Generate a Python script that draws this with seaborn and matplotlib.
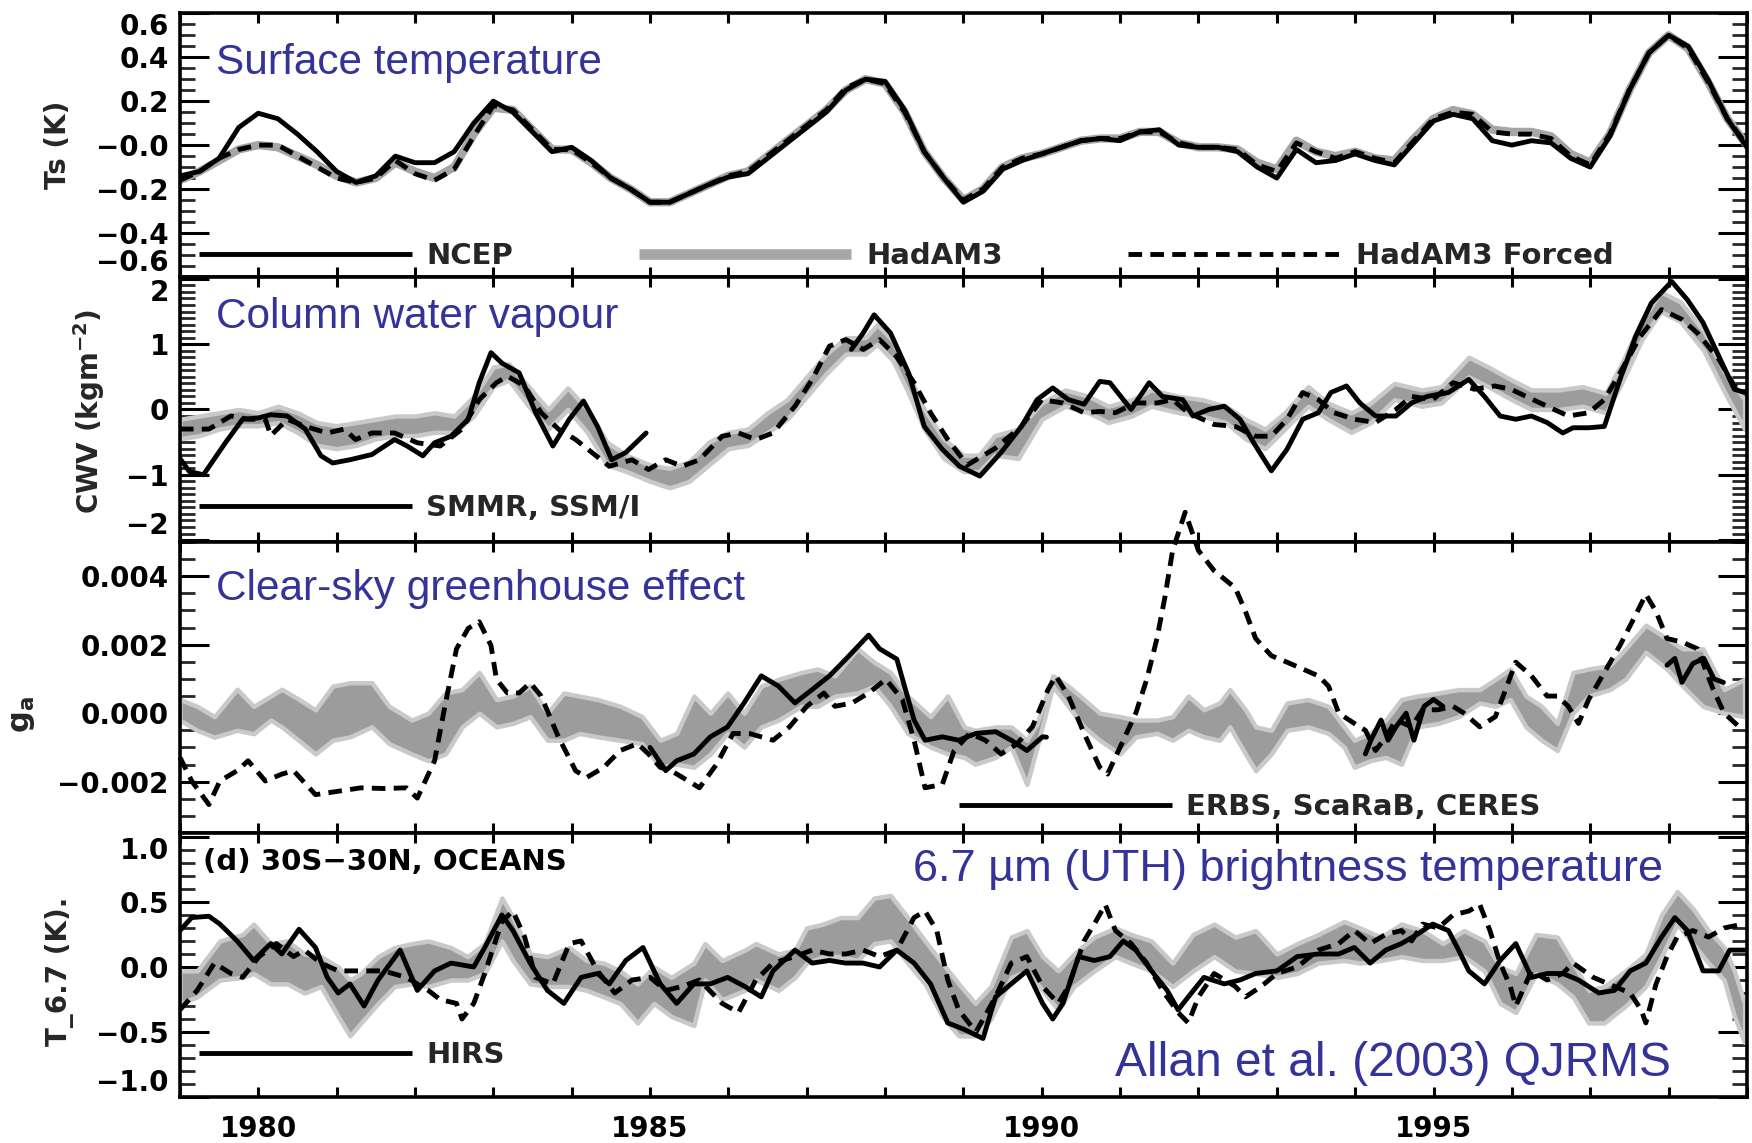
import numpy as np
import pandas as pd
import matplotlib
matplotlib.use("Agg")
import matplotlib.pyplot as plt
from matplotlib.lines import Line2D
from matplotlib.ticker import FixedLocator, FixedFormatter, MultipleLocator
import seaborn as sns

# ------------------------------------------------------------------ data
# (a) Surface temperature anomaly (K), quarterly 1979.0 - 1999.0
ts_years = np.arange(1979.0, 1999.01, 0.25)
ts_ncep = [-0.14, -0.12, -0.06, 0.08, 0.145, 0.12, 0.05, -0.03, -0.12, -0.17, -0.14, -0.05,
           -0.08, -0.08, -0.03, 0.10, 0.20, 0.15, 0.06, -0.03, -0.01, -0.07, -0.15, -0.20,
           -0.26, -0.26, -0.22, -0.18, -0.145, -0.13, -0.06, 0.01, 0.08, 0.15, 0.25, 0.30,
           0.29, 0.16, -0.03, -0.15, -0.26, -0.21, -0.11, -0.07, -0.04, -0.01, 0.02, 0.03,
           0.02, 0.06, 0.07, 0.00, -0.01, -0.01, -0.03, -0.10, -0.15, -0.02, -0.08, -0.07,
           -0.04, -0.07, -0.09, 0.01, 0.11, 0.14, 0.12, 0.02, 0.00, 0.02, 0.01, -0.06,
           -0.10, 0.04, 0.25, 0.42, 0.50, 0.45, 0.30, 0.12, -0.01]
ts_hadam3 = [-0.16, -0.12, -0.07, -0.02, 0.0, -0.01, -0.05, -0.09, -0.14, -0.17, -0.15, -0.08,
             -0.12, -0.15, -0.10, 0.05, 0.17, 0.16, 0.07, -0.02, -0.02, -0.08, -0.15, -0.20,
             -0.26, -0.26, -0.22, -0.18, -0.14, -0.12, -0.05, 0.02, 0.09, 0.16, 0.25, 0.30,
             0.28, 0.15, -0.03, -0.15, -0.25, -0.20, -0.10, -0.06, -0.04, -0.01, 0.02, 0.03,
             0.03, 0.06, 0.06, 0.01, -0.01, -0.01, -0.02, -0.08, -0.11, 0.02, -0.03, -0.05,
             -0.03, -0.06, -0.07, 0.03, 0.12, 0.16, 0.14, 0.07, 0.06, 0.06, 0.04, -0.04,
             -0.08, 0.05, 0.25, 0.42, 0.50, 0.44, 0.29, 0.12, 0.0]
ts_forced = [-0.16, -0.12, -0.06, -0.02, 0.0, 0.0, -0.05, -0.10, -0.15, -0.17, -0.15, -0.07,
             -0.13, -0.16, -0.11, 0.04, 0.18, 0.16, 0.07, -0.02, -0.02, -0.08, -0.15, -0.20,
             -0.26, -0.26, -0.22, -0.18, -0.14, -0.12, -0.05, 0.02, 0.09, 0.16, 0.26, 0.30,
             0.28, 0.15, -0.03, -0.15, -0.25, -0.20, -0.10, -0.06, -0.04, -0.01, 0.02, 0.03,
             0.03, 0.06, 0.06, 0.01, -0.01, -0.01, -0.02, -0.09, -0.12, 0.01, -0.03, -0.06,
             -0.03, -0.06, -0.08, 0.02, 0.12, 0.15, 0.14, 0.06, 0.05, 0.05, 0.03, -0.05,
             -0.09, 0.05, 0.25, 0.42, 0.50, 0.44, 0.29, 0.12, 0.0]

# (b) Column water vapour (kg m-2): (year, value); NaN = data gap
cwv_obs = [(1979.0, -0.75), (1979.12, -0.95), (1979.3, -1.0), (1979.58, -0.51), (1979.8, -0.15),
           (1980.0, -0.13), (1980.16, -0.08), (1980.37, -0.1), (1980.6, -0.3), (1980.8, -0.71),
           (1980.95, -0.82), (1981.17, -0.77), (1981.45, -0.69), (1981.74, -0.46), (1981.9, -0.56),
           (1982.1, -0.71), (1982.25, -0.51), (1982.46, -0.41), (1982.68, -0.15), (1982.82, 0.41),
           (1982.97, 0.87), (1983.11, 0.71), (1983.33, 0.56), (1983.54, -0.05), (1983.76, -0.56),
           (1983.97, -0.15), (1984.15, 0.13), (1984.33, -0.26), (1984.51, -0.77), (1984.69, -0.66),
           (1984.95, -0.36), (1986.0, np.nan),
           (1987.57, 0.92), (1987.72, 1.17), (1987.86, 1.45), (1988.07, 1.17), (1988.3, 0.56),
           (1988.5, -0.26), (1988.73, -0.61), (1988.95, -0.87), (1989.21, -1.02), (1989.48, -0.66),
           (1989.74, -0.26), (1989.94, 0.15), (1990.14, 0.33), (1990.34, 0.15), (1990.54, 0.08),
           (1990.74, 0.43), (1990.87, 0.41), (1991.14, 0.0), (1991.37, 0.41), (1991.54, 0.2),
           (1991.8, 0.15), (1991.93, -0.1), (1992.13, 0.0), (1992.33, 0.05), (1992.53, -0.15),
           (1992.73, -0.56), (1992.93, -0.94), (1993.13, -0.61), (1993.33, -0.15), (1993.53, -0.05),
           (1993.69, 0.26), (1993.89, 0.36), (1994.06, 0.1), (1994.26, -0.1), (1994.52, -0.1),
           (1994.72, 0.1), (1994.92, 0.2), (1995.19, 0.26), (1995.45, 0.46), (1995.65, 0.2),
           (1995.85, -0.1), (1996.05, -0.15), (1996.25, -0.1), (1996.45, -0.2), (1996.65, -0.36),
           (1996.78, -0.28), (1996.98, -0.28), (1997.18, -0.26), (1997.38, 0.46), (1997.58, 1.12),
           (1997.78, 1.63), (1998.04, 1.96), (1998.24, 1.68), (1998.44, 1.33), (1998.64, 0.82),
           (1998.84, 0.31), (1998.97, 0.26)]
cwv_forced = [(1979.0, -0.3), (1979.37, -0.3), (1979.65, -0.1), (1979.87, -0.15), (1980.09, -0.15),
              (1980.16, -0.4), (1980.37, -0.15), (1980.6, -0.26), (1980.88, -0.36), (1981.1, -0.3),
              (1981.24, -0.46), (1981.45, -0.36), (1981.74, -0.36), (1982.03, -0.51), (1982.32, -0.56),
              (1982.6, -0.3), (1982.82, 0.15), (1983.04, 0.41), (1983.18, 0.51), (1983.4, 0.36),
              (1983.61, -0.05), (1983.83, -0.3), (1984.05, -0.46), (1984.26, -0.66), (1984.48, -0.87),
              (1984.77, -0.77), (1984.98, -0.92), (1985.2, -0.77), (1985.41, -0.87), (1985.63, -0.77),
              (1985.92, -0.41), (1986.13, -0.36), (1986.35, -0.46), (1986.57, -0.36), (1986.85, 0.05),
              (1987.07, 0.46), (1987.29, 0.97), (1987.5, 1.07), (1987.72, 0.92), (1987.93, 1.07),
              (1988.14, 0.82), (1988.37, 0.41), (1988.58, -0.05), (1988.8, -0.46), (1989.05, -0.85),
              (1989.4, -0.6), (1989.74, -0.26), (1990.0, 0.15), (1990.27, 0.1), (1990.54, -0.05),
              (1990.74, -0.03), (1990.94, -0.05), (1991.2, 0.1), (1991.47, 0.1), (1991.67, 0.15),
              (1991.87, -0.05), (1992.2, -0.23), (1992.47, -0.26), (1992.73, -0.41), (1992.93, -0.41),
              (1993.13, -0.15), (1993.33, 0.26), (1993.53, 0.15), (1993.73, -0.05), (1993.99, -0.15),
              (1994.26, -0.2), (1994.52, 0.0), (1994.72, 0.2), (1994.99, 0.15), (1995.25, 0.41),
              (1995.52, 0.31), (1995.78, 0.36), (1995.99, 0.31), (1996.18, 0.2), (1996.45, 0.05),
              (1996.72, -0.1), (1996.98, -0.05), (1997.18, 0.15), (1997.38, 0.56), (1997.64, 1.12),
              (1997.91, 1.53), (1998.17, 1.38), (1998.37, 1.17), (1998.64, 0.77), (1998.84, 0.36),
              (1998.97, 0.31)]
# HadAM3 ensemble range: (year, upper, lower)
cwv_band = [(1979.0, -0.15, -0.45), (1979.25, -0.1, -0.4), (1979.5, -0.05, -0.3), (1979.75, 0.0, -0.25),
            (1980.0, -0.05, -0.25), (1980.25, 0.05, -0.2), (1980.5, -0.05, -0.35), (1980.75, -0.2, -0.55),
            (1981.0, -0.25, -0.6), (1981.25, -0.2, -0.55), (1981.5, -0.15, -0.45), (1981.75, -0.1, -0.4),
            (1982.0, -0.1, -0.4), (1982.25, -0.05, -0.35), (1982.5, -0.1, -0.35), (1982.75, 0.2, -0.1),
            (1983.0, 0.65, 0.35), (1983.2, 0.7, 0.45), (1983.45, 0.35, 0.05), (1983.7, 0.0, -0.3),
            (1983.95, 0.33, 0.0), (1984.2, 0.0, -0.35), (1984.45, -0.5, -0.85), (1984.7, -0.7, -0.95),
            (1985.0, -0.85, -1.1), (1985.25, -0.9, -1.2), (1985.5, -0.8, -1.1), (1985.75, -0.5, -0.85),
            (1986.0, -0.35, -0.6), (1986.25, -0.3, -0.55), (1986.5, -0.05, -0.35), (1986.75, 0.15, -0.15),
            (1987.0, 0.5, 0.2), (1987.25, 0.85, 0.55), (1987.5, 1.1, 0.85), (1987.75, 1.1, 0.85),
            (1987.9, 1.3, 1.0), (1988.1, 1.05, 0.75), (1988.3, 0.55, 0.25), (1988.5, 0.0, -0.3),
            (1988.75, -0.45, -0.75), (1989.0, -0.7, -0.95), (1989.2, -0.7, -0.95), (1989.4, -0.4, -0.7),
            (1989.7, -0.3, -0.75), (1990.0, 0.1, -0.15), (1990.3, 0.3, 0.05), (1990.6, 0.2, -0.05),
            (1990.85, 0.05, -0.2), (1991.15, 0.15, -0.1), (1991.4, 0.3, 0.05), (1991.75, 0.2, -0.05),
            (1992.05, 0.15, -0.1), (1992.35, 0.05, -0.2), (1992.6, -0.15, -0.45), (1992.85, -0.3, -0.6),
            (1993.1, -0.05, -0.3), (1993.4, 0.35, 0.05), (1993.65, 0.1, -0.15), (1993.95, -0.05, -0.35),
            (1994.2, 0.1, -0.2), (1994.5, 0.4, 0.15), (1994.85, 0.3, 0.05), (1995.1, 0.35, 0.1),
            (1995.45, 0.8, 0.5), (1995.7, 0.65, 0.35), (1996.0, 0.45, 0.15), (1996.25, 0.3, 0.0),
            (1996.6, 0.3, 0.0), (1996.9, 0.35, 0.05), (1997.2, 0.25, -0.05), (1997.4, 0.7, 0.4),
            (1997.65, 1.35, 1.05), (1997.9, 1.8, 1.5), (1998.15, 1.65, 1.35), (1998.45, 1.2, 0.9),
            (1998.7, 0.6, 0.3), (1998.97, 0.15, -0.3)]

# (c) Clear-sky greenhouse parameter g_a, in units of 0.001
ga_obs = [(1985.0, -1.0), (1985.2, -1.68), (1985.34, -1.39), (1985.56, -1.19), (1985.77, -0.69),
          (1985.99, -0.4), (1986.2, 0.3), (1986.42, 1.09), (1986.64, 0.79), (1986.85, 0.3),
          (1987.07, 0.69), (1987.29, 1.09), (1987.5, 1.58), (1987.79, 2.28), (1987.93, 1.88),
          (1988.15, 1.58), (1988.37, -0.2), (1988.51, -0.79), (1988.73, -0.69), (1988.94, -0.79),
          (1989.16, -0.59), (1989.41, -0.54), (1989.61, -0.79), (1989.81, -1.09), (1990.01, -0.69),
          (1990.06, -0.7), (1992.0, np.nan),
          (1994.13, -1.19), (1994.2, -0.79), (1994.33, -0.2), (1994.42, -0.79), (1994.52, -0.4),
          (1994.65, 0.0), (1994.75, -0.79), (1994.88, 0.2), (1995.0, 0.4), (1995.12, 0.2),
          (1996.5, np.nan),
          (1997.98, 1.4), (1998.08, 1.6), (1998.17, 0.9), (1998.31, 1.45), (1998.45, 1.6),
          (1998.58, 1.0), (1998.7, 0.9)]
ga_forced = [(1979.0, -1.29), (1979.15, -1.98), (1979.37, -2.67), (1979.51, -1.98), (1979.73, -1.68),
             (1979.87, -1.39), (1980.09, -1.98), (1980.3, -1.78), (1980.45, -1.68), (1980.73, -2.38),
             (1981.02, -2.28), (1981.31, -2.18), (1981.6, -2.2), (1981.89, -2.18), (1982.03, -2.48),
             (1982.25, -1.39), (1982.39, 0.3), (1982.53, 1.88), (1982.68, 2.48), (1982.82, 2.67),
             (1982.97, 1.98), (1983.04, 0.99), (1983.18, 0.59), (1983.33, 0.59), (1983.47, 0.89),
             (1983.61, 0.5), (1983.83, -0.69), (1984.05, -1.68), (1984.19, -1.88), (1984.41, -1.58),
             (1984.62, -1.09), (1984.84, -0.89), (1984.98, -1.19), (1985.13, -1.58), (1985.27, -1.68),
             (1985.49, -1.98), (1985.63, -2.18), (1985.85, -1.49), (1986.06, -0.59), (1986.28, -0.6),
             (1986.57, -0.79), (1986.78, -0.4), (1987.0, 0.2), (1987.22, 0.59), (1987.36, 0.2),
             (1987.58, 0.3), (1987.79, 0.59), (1988.01, 0.99), (1988.22, 0.4), (1988.37, -0.79),
             (1988.51, -2.18), (1988.73, -2.08), (1988.88, -1.1), (1989.08, -0.59), (1989.28, -0.79),
             (1989.48, -1.19), (1989.68, -0.9), (1989.88, -0.4), (1990.08, 0.69), (1990.18, 1.09),
             (1990.34, 0.5), (1990.54, -0.59), (1990.74, -1.58), (1990.84, -1.78), (1991.0, -0.99),
             (1991.2, 0.0), (1991.34, 0.99), (1991.47, 2.18), (1991.57, 3.37), (1991.67, 4.75),
             (1991.83, 5.87), (1992.0, 4.75), (1992.2, 4.16), (1992.47, 3.66), (1992.6, 2.97),
             (1992.73, 2.18), (1992.93, 1.68), (1993.13, 1.49), (1993.33, 1.29), (1993.53, 1.09),
             (1993.66, 0.79), (1993.79, 0.0), (1993.99, -0.3), (1994.13, -0.5), (1994.26, -1.09),
             (1994.39, -0.7), (1994.52, -0.2), (1994.72, -0.4), (1994.86, 0.1), (1995.06, 0.1),
             (1995.25, 0.2), (1995.39, 0.0), (1995.59, -0.4), (1995.79, -0.1), (1995.92, 0.69),
             (1996.05, 1.49), (1996.25, 1.09), (1996.45, 0.5), (1996.58, 0.5), (1996.72, 0.2),
             (1996.85, -0.3), (1996.98, 0.4), (1997.18, 1.19), (1997.38, 1.98), (1997.58, 2.87),
             (1997.71, 3.47), (1997.84, 2.97), (1997.98, 2.18), (1998.17, 2.08), (1998.37, 1.88),
             (1998.57, 0.69), (1998.71, 0.0), (1998.95, -0.5)]
ga_band = [(1979.0, 0.4, -0.2), (1979.22, 0.2, -0.5), (1979.44, -0.1, -0.7), (1979.73, 0.7, -0.5),
           (1979.94, 0.2, -0.6), (1980.16, 0.5, -0.2), (1980.3, 0.7, -0.4), (1980.52, 0.4, -0.8),
           (1980.73, 0.1, -1.19), (1980.95, 0.79, -0.79), (1981.17, 0.89, -0.69), (1981.45, 0.89, -0.4),
           (1981.67, 0.2, -0.89), (1981.96, -0.2, -1.19), (1982.17, 0.0, -1.39), (1982.39, 0.59, -1.19),
           (1982.6, 0.69, -0.4), (1982.82, 1.19, 0.0), (1983.04, 0.4, -0.4), (1983.25, 0.5, -0.3),
           (1983.47, 0.79, -0.1), (1983.69, 0.0, -0.79), (1983.9, 0.59, -0.79), (1984.1, 0.5, -0.59),
           (1984.33, 0.4, -0.69), (1984.62, 0.2, -0.79), (1984.9, -0.1, -0.89), (1985.13, -0.79, -1.58),
           (1985.34, -0.59, -1.49), (1985.56, 0.5, -1.58), (1985.77, 0.0, -1.19), (1985.99, 0.59, -0.59),
           (1986.2, 0.0, -0.99), (1986.42, 0.79, -0.4), (1986.64, 0.99, -0.2), (1986.93, 1.19, 0.2),
           (1987.14, 1.29, 0.2), (1987.36, 1.09, 0.5), (1987.65, 1.88, 0.59), (1987.86, 1.49, 0.79),
           (1988.07, 1.19, 0.2), (1988.29, 0.5, -0.59), (1988.58, -0.1, -0.99), (1988.8, 0.5, -1.19),
           (1989.01, -0.4, -1.29), (1989.15, -0.5, -1.49), (1989.41, -0.4, -1.29), (1989.61, -0.4, -0.99),
           (1989.81, -0.79, -2.08), (1989.94, -0.3, -0.99), (1990.14, 1.09, 0.79), (1990.34, 0.79, 0.2),
           (1990.54, 0.4, -0.4), (1990.74, 0.0, -0.79), (1991.0, -0.1, -1.19), (1991.2, -0.2, -0.69),
           (1991.47, -0.2, -0.59), (1991.67, -0.1, -0.79), (1991.87, 0.5, -0.5), (1992.07, 0.1, -0.69),
           (1992.27, 0.3, -0.79), (1992.4, 0.69, -0.4), (1992.6, 0.1, -1.19), (1992.73, -0.4, -1.68),
           (1992.93, -0.5, -1.19), (1993.13, 0.3, -0.5), (1993.4, 0.4, -0.4), (1993.66, 0.2, -0.59),
           (1993.86, -0.4, -0.99), (1993.99, -0.79, -1.58), (1994.19, -0.59, -1.39), (1994.39, -0.2, -1.29),
           (1994.59, 0.4, -1.49), (1994.79, 0.5, -0.4), (1995.06, 0.59, -0.3), (1995.32, 0.69, -0.1),
           (1995.59, 0.69, 0.3), (1995.79, 0.99, 0.2), (1995.98, 1.29, 0.4), (1996.18, 0.5, -0.4),
           (1996.38, 0.2, -0.79), (1996.58, -0.3, -1.09), (1996.78, 1.19, 0.0), (1996.98, 1.29, 0.5),
           (1997.25, 1.39, 0.69), (1997.45, 1.88, 0.99), (1997.71, 2.57, 1.78), (1997.98, 2.18, 1.29),
           (1998.18, 1.88, 0.79), (1998.44, 1.88, 0.2), (1998.71, 0.69, 0.0), (1998.97, 0.99, -0.1)]

# (d) 6.7 micron brightness temperature (K)
t67_obs = [(1979.0, 0.28), (1979.15, 0.38), (1979.37, 0.39), (1979.51, 0.33), (1979.73, 0.2),
           (1979.94, 0.05), (1980.16, 0.18), (1980.3, 0.1), (1980.52, 0.29), (1980.73, 0.15),
           (1980.88, -0.08), (1981.02, -0.2), (1981.17, -0.13), (1981.35, -0.3), (1981.53, -0.1),
           (1981.81, 0.13), (1982.03, -0.18), (1982.25, -0.03), (1982.46, 0.03), (1982.75, 0.0),
           (1982.89, 0.15), (1983.11, 0.4), (1983.25, 0.28), (1983.47, 0.03), (1983.69, -0.18),
           (1983.9, -0.28), (1984.12, -0.08), (1984.33, -0.05), (1984.48, -0.13), (1984.69, 0.05),
           (1984.91, 0.15), (1985.13, -0.13), (1985.34, -0.28), (1985.56, -0.13), (1985.77, -0.13),
           (1985.99, -0.08), (1986.21, -0.15), (1986.42, -0.23), (1986.57, -0.03), (1986.85, 0.13),
           (1987.07, 0.03), (1987.29, 0.05), (1987.5, 0.03), (1987.72, 0.03), (1987.93, 0.0),
           (1988.15, 0.13), (1988.37, 0.03), (1988.58, -0.13), (1988.8, -0.43), (1989.01, -0.48),
           (1989.25, -0.55), (1989.41, -0.23), (1989.61, -0.13), (1989.81, -0.03), (1990.01, -0.28),
           (1990.14, -0.4), (1990.27, -0.28), (1990.47, 0.08), (1990.67, 0.05), (1990.87, 0.08),
           (1991.04, 0.2), (1991.2, 0.13), (1991.4, -0.03), (1991.6, -0.18), (1991.74, -0.33),
           (1991.87, -0.23), (1992.07, -0.08), (1992.33, -0.13), (1992.53, -0.1), (1992.73, -0.05),
           (1993.0, -0.03), (1993.26, 0.08), (1993.53, 0.1), (1993.79, 0.1), (1993.99, 0.15),
           (1994.19, 0.03), (1994.39, 0.13), (1994.59, 0.18), (1994.79, 0.25), (1994.99, 0.33),
           (1995.19, 0.28), (1995.32, 0.13), (1995.45, -0.03), (1995.65, -0.13), (1995.85, 0.05),
           (1996.05, 0.18), (1996.25, -0.08), (1996.45, -0.05), (1996.65, -0.05), (1996.85, -0.1),
           (1997.11, -0.2), (1997.31, -0.18), (1997.51, -0.03), (1997.71, 0.03), (1997.91, 0.23),
           (1998.08, 0.38), (1998.24, 0.28), (1998.44, -0.03), (1998.64, -0.03), (1998.78, 0.13),
           (1998.97, 0.13)]
t67_forced = [(1979.0, -0.33), (1979.22, -0.18), (1979.44, 0.03), (1979.65, -0.05), (1979.8, -0.08),
              (1980.01, 0.08), (1980.23, 0.18), (1980.45, 0.08), (1980.59, 0.13), (1980.8, 0.03),
              (1981.02, -0.03), (1981.31, -0.03), (1981.6, -0.03), (1981.89, -0.08), (1982.17, -0.18),
              (1982.32, -0.25), (1982.53, -0.28), (1982.6, -0.4), (1982.75, -0.28), (1982.89, -0.05),
              (1983.11, 0.35), (1983.25, 0.43), (1983.4, 0.23), (1983.54, -0.08), (1983.76, -0.13),
              (1983.97, 0.18), (1984.12, 0.2), (1984.33, -0.03), (1984.55, -0.2), (1984.77, -0.1),
              (1985.0, -0.08), (1985.2, -0.18), (1985.41, -0.15), (1985.63, -0.1), (1985.92, -0.28),
              (1986.13, -0.35), (1986.35, -0.1), (1986.57, 0.03), (1986.85, 0.08), (1987.07, 0.13),
              (1987.29, 0.1), (1987.5, 0.1), (1987.72, 0.13), (1987.93, 0.08), (1988.15, 0.13),
              (1988.37, 0.38), (1988.51, 0.43), (1988.66, 0.28), (1988.8, -0.1), (1988.94, -0.33),
              (1989.16, -0.5), (1989.41, -0.23), (1989.61, 0.03), (1989.81, 0.08), (1990.01, -0.15),
              (1990.21, -0.28), (1990.34, -0.15), (1990.54, 0.2), (1990.67, 0.33), (1990.81, 0.48),
              (1990.94, 0.28), (1991.14, 0.18), (1991.34, 0.03), (1991.54, -0.18), (1991.74, -0.35),
              (1991.87, -0.43), (1992.0, -0.23), (1992.2, -0.05), (1992.47, -0.15), (1992.6, -0.23),
              (1992.8, -0.15), (1993.0, -0.05), (1993.26, 0.0), (1993.53, 0.13), (1993.79, 0.18),
              (1993.99, 0.28), (1994.19, 0.18), (1994.39, 0.25), (1994.59, 0.28), (1994.72, 0.2),
              (1994.86, 0.33), (1995.06, 0.3), (1995.25, 0.4), (1995.45, 0.43), (1995.59, 0.48),
              (1995.72, 0.28), (1995.85, 0.03), (1995.98, -0.15), (1996.05, -0.3), (1996.25, -0.03),
              (1996.45, -0.1), (1996.65, -0.05), (1996.78, 0.03), (1997.04, -0.08), (1997.31, -0.15),
              (1997.51, -0.2), (1997.65, -0.33), (1997.71, -0.43), (1997.84, -0.13), (1997.98, 0.08),
              (1998.11, 0.23), (1998.31, 0.28), (1998.51, 0.23), (1998.71, 0.3), (1998.95, 0.33)]
t67_band = [(1979.0, -0.03, -0.28), (1979.22, -0.03, -0.23), (1979.51, 0.2, -0.1), (1979.8, 0.25, -0.08),
            (1979.94, 0.33, -0.05), (1980.16, 0.18, -0.13), (1980.37, 0.2, -0.13), (1980.59, 0.1, -0.2),
            (1980.8, 0.08, -0.15), (1981.02, 0.0, -0.38), (1981.17, -0.1, -0.53), (1981.31, -0.05, -0.43),
            (1981.53, 0.08, -0.28), (1981.74, 0.15, -0.15), (1981.96, 0.18, -0.13), (1982.17, 0.2, -0.15),
            (1982.46, 0.15, -0.1), (1982.67, 0.08, -0.1), (1982.89, 0.18, -0.05), (1983.11, 0.53, 0.2),
            (1983.25, 0.38, 0.05), (1983.47, 0.1, -0.13), (1983.69, 0.08, -0.15), (1983.97, 0.15, -0.15),
            (1984.19, 0.05, -0.18), (1984.41, 0.03, -0.23), (1984.62, -0.03, -0.28), (1984.84, -0.13, -0.43),
            (1985.05, 0.0, -0.28), (1985.27, -0.08, -0.38), (1985.56, 0.03, -0.45), (1985.7, 0.18, -0.1),
            (1985.92, 0.05, -0.25), (1986.21, 0.13, -0.18), (1986.35, 0.18, -0.1), (1986.64, 0.1, -0.18),
            (1986.85, 0.13, -0.08), (1987.0, 0.3, 0.03), (1987.21, 0.33, 0.08), (1987.43, 0.38, 0.08),
            (1987.65, 0.38, 0.05), (1987.86, 0.53, 0.18), (1988.07, 0.55, 0.2), (1988.29, 0.38, 0.03),
            (1988.51, 0.2, -0.13), (1988.73, 0.03, -0.38), (1988.94, -0.13, -0.53), (1989.15, -0.28, -0.53),
            (1989.35, -0.15, -0.4), (1989.61, 0.23, -0.08), (1989.81, 0.28, -0.03), (1990.01, 0.08, -0.18),
            (1990.21, -0.03, -0.33), (1990.41, 0.1, -0.15), (1990.67, 0.23, -0.03), (1990.94, 0.3, 0.08),
            (1991.14, 0.25, 0.03), (1991.4, 0.2, -0.03), (1991.67, 0.03, -0.15), (1991.93, 0.25, -0.03),
            (1992.2, 0.33, 0.08), (1992.47, 0.23, -0.03), (1992.73, 0.28, -0.05), (1993.0, 0.1, -0.08),
            (1993.26, 0.18, -0.05), (1993.53, 0.25, 0.03), (1993.86, 0.35, 0.05), (1994.06, 0.3, 0.03),
            (1994.33, 0.23, 0.05), (1994.59, 0.33, 0.08), (1994.86, 0.28, 0.05), (1995.12, 0.18, 0.05),
            (1995.39, 0.28, 0.08), (1995.65, 0.2, -0.03), (1995.85, 0.0, -0.28), (1996.05, -0.05, -0.35),
            (1996.31, 0.25, -0.05), (1996.58, 0.23, -0.13), (1996.78, 0.03, -0.23), (1996.98, -0.18, -0.43),
            (1997.18, -0.15, -0.43), (1997.45, -0.03, -0.3), (1997.71, 0.1, -0.15), (1997.91, 0.4, 0.08),
            (1998.11, 0.58, 0.33), (1998.31, 0.45, 0.18), (1998.51, 0.28, 0.03), (1998.71, 0.15, -0.1),
            (1998.84, -0.03, -0.38), (1998.97, -0.28, -0.58)]

# axis ticks / labels
year_ticks = list(range(1979, 2000))
year_labels = ["1980", "1985", "1990", "1995"]
ts_yticks = [0.6, 0.4, 0.2, 0.0, -0.2, -0.4, -0.6]
ts_ylabels = ["0.6", "0.4", "0.2", "\u22120.0", "\u22120.2", "\u22120.4", "\u22120.6"]
cwv_yticks = [2, 1, 0, -1, -2]
cwv_ylabels = ["2", "1", "0", "\u22121", "\u22122"]
ga_yticks = [4, 2, 0, -2]                     # units of 0.001
ga_ylabels = ["0.004", "0.002", "0.000", "\u22120.002"]
t67_yticks = [1.0, 0.5, 0.0, -0.5, -1.0]
t67_ylabels = ["1.0", "0.5", "0.0", "\u22120.5", "\u22121.0"]

# ------------------------------------------------------------------ style
sns.set_theme(style="white")
plt.rcParams["font.family"] = ["DejaVu Sans"]
plt.rcParams["font.weight"] = "bold"
plt.rcParams["mathtext.default"] = "bf"
plt.rcParams["axes.linewidth"] = 2.6

BLACK = "#000000"
DARK = "#9c9c9c"
LIGHT = "#c9c9c9"
HAD_LINE = "#a6a6a6"
BLUE = "#333399"
LW = 3.5
DASH = [2.8, 1.7]
TICKFS = 20
TXTFS = 21

fig = plt.figure(figsize=(17.52, 11.43), dpi=100)
L, W = 0.1027, 0.8944
rects = [(L, 0.7577, W, 0.2307), (L, 0.5258, W, 0.2319), (L, 0.2712, W, 0.2546), (L, 0.0402, W, 0.2310)]
axes = [fig.add_axes(r) for r in rects]


def draw(ax, t, v, color=BLACK, lw=LW, dashes=None, clip=True, z=3):
    df = pd.DataFrame({"t": t, "v": v})
    grp = df["v"].isna().cumsum()
    ok = df["v"].notna()
    for _, part in df[ok].groupby(grp[ok]):
        sns.lineplot(data=part, x="t", y="v", ax=ax, color=color, linewidth=lw,
                     estimator=None, sort=False, zorder=z)
        ln = ax.lines[-1]
        if dashes is not None:
            ln.set_dashes(dashes)
        ln.set_clip_on(clip)
        ln.set_solid_joinstyle("round")
        ln.set_dash_joinstyle("round")


def band(ax, rows):
    arr = np.array(rows, dtype=float)
    ax.fill_between(arr[:, 0], arr[:, 2], arr[:, 1], facecolor=DARK, edgecolor=LIGHT,
                    linewidth=3.2, zorder=1)


def unzip(rows):
    arr = np.array(rows, dtype=float)
    return arr[:, 0], arr[:, 1]


def style_axis(ax, yticks, ylabels, ylim, minor, bottom_labels=False):
    ax.set_xlim(1979.0, 1999.0)
    ax.set_ylim(*ylim)
    ax.set_facecolor("white")
    for s in ax.spines.values():
        s.set_visible(True)
        s.set_color(BLACK)
        s.set_linewidth(2.6)
    ax.yaxis.set_major_locator(FixedLocator(yticks))
    ax.yaxis.set_major_formatter(FixedFormatter(ylabels))
    ax.yaxis.set_minor_locator(MultipleLocator(minor))
    ax.xaxis.set_major_locator(FixedLocator(year_ticks))
    xl = [str(y) if str(y) in year_labels else "" for y in year_ticks] if bottom_labels else [""] * len(year_ticks)
    ax.xaxis.set_major_formatter(FixedFormatter(xl))
    ax.tick_params(axis="y", which="major", direction="in", length=21, width=2.2,
                   left=True, right=True, labelsize=TICKFS, pad=8, colors=BLACK)
    ax.tick_params(axis="y", which="minor", direction="in", length=11, width=2.0,
                   left=True, right=True)
    ax.tick_params(axis="x", which="major", direction="in", length=7, width=2.2,
                   top=True, bottom=True, labelsize=TICKFS, pad=13, colors=BLACK)
    ax.tick_params(axis="x", which="minor", bottom=False, top=False)
    ax.set_xlabel("")
    ax.set_ylabel("")
    for lab in ax.get_yticklabels() + ax.get_xticklabels():
        lab.set_fontweight("bold")


def edge_labels(ax, top=True, bottom=True):
    labs = ax.get_yticklabels()
    if top:
        labs[0].set_va("top")
    if bottom:
        labs[-1].set_va("bottom")


def key(color=BLACK, lw=LW, dashes=None):
    ln = Line2D([], [], color=color, lw=lw, solid_capstyle="butt", dash_capstyle="butt")
    if dashes is not None:
        ln.set_dashes(dashes)
    return ln


LEG = dict(frameon=False, handlelength=7.3, handletextpad=0.5, borderpad=0, borderaxespad=0,
           prop={"size": TXTFS, "weight": "bold"})

# ---------------- panel (a)
ax = axes[0]
draw(ax, ts_years, ts_hadam3, color=HAD_LINE, lw=6.0, z=2)
draw(ax, ts_years, ts_forced, dashes=DASH, z=3)
draw(ax, ts_years, ts_ncep, z=4)
style_axis(ax, ts_yticks, ts_ylabels, (-0.6, 0.6), 0.05)
edge_labels(ax)
ax.legend([key(), key(HAD_LINE, 7.6), key(dashes=DASH)], ["NCEP", "HadAM3", "HadAM3 Forced"],
          ncol=3, loc="center left", bbox_to_anchor=(0.012, 0.08), columnspacing=4.3, **LEG)
ax.text(1979.46, 0.375, "Surface temperature", color=BLUE, fontsize=30.5,
        family="Liberation Sans", weight="normal", ha="left", va="center")

# ---------------- panel (b)
ax = axes[1]
band(ax, cwv_band)
t, v = unzip(cwv_forced)
draw(ax, t, v, dashes=DASH, z=3)
t, v = unzip(cwv_obs)
draw(ax, t, v, z=4)
style_axis(ax, cwv_yticks, cwv_ylabels, (-2.03, 2.03), 0.1)
edge_labels(ax)
ax.legend([key()], ["SMMR, SSM/I"], loc="center left", bbox_to_anchor=(0.012, 0.128), **LEG)
ax.text(1979.46, 1.41, "Column water vapour", color=BLUE, fontsize=30.5,
        family="Liberation Sans", weight="normal", ha="left", va="center")

# ---------------- panel (c)
ax = axes[2]
band(ax, ga_band)
t, v = unzip(ga_forced)
draw(ax, t, v, dashes=DASH, clip=False, z=3)
t, v = unzip(ga_obs)
draw(ax, t, v, z=4)
style_axis(ax, ga_yticks, ga_ylabels, (-3.5, 5.0), 0.5)
ax.legend([key()], ["ERBS, ScaRaB, CERES"], loc="center left", bbox_to_anchor=(0.497, 0.089), **LEG)
ax.text(1979.46, 3.64, "Clear-sky greenhouse effect", color=BLUE, fontsize=30.5,
        family="Liberation Sans", weight="normal", ha="left", va="center")

# ---------------- panel (d)
ax = axes[3]
band(ax, t67_band)
t, v = unzip(t67_forced)
draw(ax, t, v, dashes=DASH, z=3)
t, v = unzip(t67_obs)
draw(ax, t, v, z=4)
style_axis(ax, t67_yticks, t67_ylabels, (-1.0, 1.03), 0.1, bottom_labels=True)
edge_labels(ax)
ax.legend([key()], ["HIRS"], loc="center left", bbox_to_anchor=(0.012, 0.159), **LEG)
ax.text(1979.29, 0.81, "(d) 30S\u221230N, OCEANS", color=BLACK, fontsize=TXTFS,
        weight="bold", ha="left", va="center")
ax.text(1997.93, 0.75, "6.7 \u00b5m (UTH) brightness temperature", color=BLUE, fontsize=32.5,
        family="Liberation Sans", weight="normal", ha="right", va="center")
ax.text(1998.03, -0.74, "Allan et al. (2003) QJRMS", color=BLUE, fontsize=34.5,
        family="Liberation Sans", weight="normal", ha="right", va="center")

# later panels on top so the spilled dashed peak of (c) stays visible over (b)
for i, a in enumerate(axes):
    a.set_zorder(i)

# ---------------- y labels
fig.text(0.033, 0.873, "Ts (K)", rotation=90, fontsize=TICKFS, weight="bold", ha="center", va="center")
fig.text(0.051, 0.640, "CWV (kgm$^{-2}$)", rotation=90, fontsize=TICKFS, weight="bold", ha="center", va="center")
fig.text(0.013, 0.375, "g$_{a}$", rotation=90, fontsize=TICKFS + 2, weight="bold", ha="center", va="center")
fig.text(0.034, 0.150, "T_6.7 (K).", rotation=90, fontsize=TICKFS, weight="bold", ha="center", va="center")

fig.savefig("out.png", dpi=100, facecolor="white")
